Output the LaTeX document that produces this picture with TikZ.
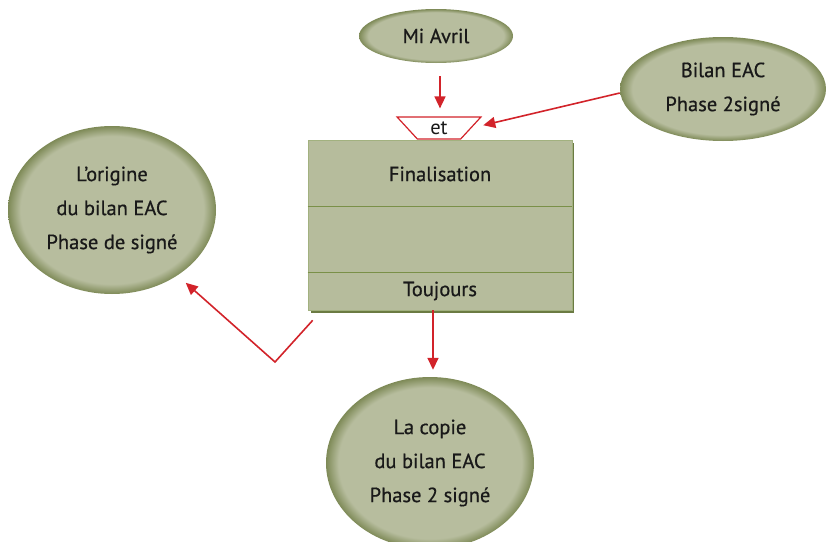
\documentclass[tikz,border=0pt]{standalone}
\usepackage{fontspec}
\setmainfont{PT Sans}
\newfontfamily\medfont[RawFeature={embolden=0.6}]{PT Sans}
\usetikzlibrary{shapes.geometric,arrows.meta}
\definecolor{elfill}{HTML}{B7BD9E}
\definecolor{eledge}{HTML}{7E8A57}
\definecolor{boxfill}{HTML}{B6BC9C}
\definecolor{boxline}{HTML}{7A9048}
\definecolor{boxshadow}{HTML}{6B7B43}
\definecolor{arrowred}{HTML}{D2232A}
\pgfdeclareradialshading{elshade}{\pgfpoint{0bp}{0bp}}{color(0bp)=(elfill); color(22bp)=(elfill); color(25bp)=(eledge); color(50bp)=(eledge)}
\tikzset{
  bubble/.style={ellipse, shading=elshade, inner sep=0pt, align=center,
    font=\medfont\fontsize{20.5}{34}\selectfont, text=black!90},
  conn/.style={draw=arrowred, line width=1.6pt, -{Triangle[length=12pt,width=11pt]}},
  lbl/.style={font=\medfont\fontsize{20.5}{24}\selectfont, text=black!90}
}
\begin{document}
\begin{tikzpicture}[x=1pt,y=-1pt]
\useasboundingbox (0,0) rectangle (827,541);
% ellipses
\node[bubble, minimum width=154pt, minimum height=54pt] (mi) at (436,36) {Mi Avril};
\node[bubble, minimum width=206pt, minimum height=104pt] (bil) at (723,89) {Bilan EAC\\Phase 2signé};
\node[bubble, minimum width=208pt, minimum height=168pt] (orig) at (112,210) {L’origine\\du bilan EAC\\Phase de signé};
\node[bubble, minimum width=208pt, minimum height=172pt] (copy) at (430,463) {La copie\\du bilan EAC\\Phase 2 signé};
% box with shadow
\fill[boxshadow] (311,143) rectangle (574,313);
\node[draw=boxline!70, fill=boxfill, minimum width=264pt, minimum height=170pt, inner sep=0pt, line width=0.6pt] (box) at (440,225) {};
\draw[boxline, line width=0.9pt] ([yshift=19pt]box.west) -- ([yshift=19pt]box.east);
\draw[boxline, line width=0.9pt] ([yshift=-47pt]box.west) -- ([yshift=-47pt]box.east);
\node[lbl] (fin) at (440,174) {Finalisation};
\node[lbl] (tou) at (440,291) {Toujours};
% et trapezium
\node[trapezium, shape border rotate=180, draw=arrowred, fill=white, line width=1.2pt,
  trapezium left angle=58, trapezium right angle=58, minimum width=84pt, minimum height=22pt,
  trapezium stretches=true, inner sep=0pt, font=\fontsize{20.5}{24}\selectfont, text=black!90] (et) at (439,128) {et};
% connectors
\draw[conn, shorten <=13pt, shorten >=8pt] ([xshift=4pt]mi.south) -- ([xshift=1pt]et.north);
\draw[conn, shorten >=12pt] ([yshift=-4pt]bil.west) -- (et.east);
\draw[conn, shorten >=7pt] ([xshift=-7pt]box.south) -- ([xshift=3pt]copy.north);
\coordinate (bend) at (275,362);
\draw[conn, shorten >=11pt] ([shift={(5pt,-10pt)}]box.south west) -- (bend) -- (orig.-45);
\end{tikzpicture}
\end{document}
